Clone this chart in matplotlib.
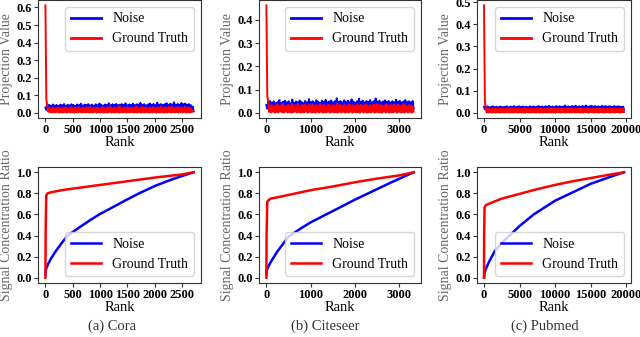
import numpy as np
import matplotlib
matplotlib.use("Agg")
import matplotlib.pyplot as plt

plt.rcParams['font.family'] = ['Liberation Serif', 'DejaVu Serif']

# dataset sizes and captions
names = ['(a) Cora', '(b) Citeseer', '(c) Pubmed']
sizes = [2708, 3327, 19717]

# tick positions
x_ticks = [[0, 500, 1000, 1500, 2000, 2500],
           [0, 1000, 2000, 3000],
           [0, 5000, 10000, 15000, 20000]]
top_y_ticks = [[0.0, 0.1, 0.2, 0.3, 0.4, 0.5, 0.6],
               [0.0, 0.1, 0.2, 0.3, 0.4],
               [0.0, 0.1, 0.2, 0.3, 0.4, 0.5]]
bottom_y_ticks = [0.0, 0.2, 0.4, 0.6, 0.8, 1.0]

# projection values, sampled evenly along the rank axis
cora_noise = [
    0.030, 0.017, 0.043, 0.020, 0.046, 0.015, 0.040, 0.019, 0.048, 0.016, 0.042, 0.021, 0.045, 0.014, 0.039, 0.018,
    0.047, 0.020, 0.044, 0.016, 0.050, 0.019, 0.041, 0.015, 0.046, 0.021, 0.043, 0.017, 0.049, 0.014, 0.045, 0.020,
    0.040, 0.018, 0.048, 0.016, 0.044, 0.021, 0.052, 0.015, 0.042, 0.019, 0.047, 0.017, 0.045, 0.020, 0.050, 0.016,
    0.043, 0.018, 0.046, 0.014, 0.041, 0.021, 0.049, 0.017, 0.044, 0.019, 0.053, 0.015, 0.046, 0.020, 0.042, 0.018,
    0.048, 0.016, 0.045, 0.021, 0.055, 0.017, 0.043, 0.019, 0.049, 0.015, 0.046, 0.020, 0.051, 0.018, 0.044, 0.016,
    0.047, 0.021, 0.050, 0.015, 0.045, 0.019, 0.054, 0.017, 0.043, 0.020, 0.048, 0.016, 0.046, 0.018, 0.052, 0.021,
    0.044, 0.015, 0.049, 0.019, 0.047, 0.017, 0.056, 0.020, 0.045, 0.016, 0.050, 0.018, 0.043, 0.021, 0.048, 0.015,
    0.053, 0.019, 0.046, 0.017, 0.051, 0.020, 0.044, 0.016, 0.058, 0.018, 0.047, 0.021, 0.050, 0.015, 0.045, 0.019,
    0.049, 0.017, 0.055, 0.020, 0.046, 0.016, 0.052, 0.018, 0.048, 0.021, 0.060, 0.015, 0.047, 0.019, 0.051, 0.017,
    0.045, 0.020, 0.056, 0.016, 0.049, 0.018, 0.053, 0.021, 0.047, 0.015, 0.050, 0.019, 0.044, 0.012, 0.036, 0.009]
cora_gt = [
    0.612, 0.075, 0.040, 0.006, 0.028, 0.003, 0.025, 0.001, 0.030, 0.004, 0.022, 0.002, 0.027, 0.005, 0.031, 0.001,
    0.024, 0.003, 0.029, 0.002, 0.026, 0.004, 0.032, 0.001, 0.023, 0.005, 0.028, 0.002, 0.034, 0.003, 0.025, 0.001,
    0.030, 0.004, 0.027, 0.002, 0.033, 0.005, 0.024, 0.001, 0.029, 0.003, 0.026, 0.002, 0.031, 0.004, 0.028, 0.001,
    0.035, 0.003, 0.025, 0.002, 0.030, 0.005, 0.027, 0.001, 0.032, 0.003, 0.024, 0.002, 0.029, 0.004, 0.033, 0.001,
    0.026, 0.003, 0.031, 0.002, 0.028, 0.005, 0.034, 0.001, 0.025, 0.003, 0.030, 0.002, 0.027, 0.004, 0.032, 0.001,
    0.038, 0.003, 0.026, 0.002, 0.031, 0.005, 0.028, 0.001, 0.033, 0.003, 0.025, 0.002, 0.030, 0.004, 0.027, 0.001,
    0.032, 0.003, 0.036, 0.002, 0.026, 0.005, 0.029, 0.001, 0.034, 0.003, 0.027, 0.002, 0.031, 0.004, 0.025, 0.001,
    0.030, 0.003, 0.028, 0.002, 0.035, 0.005, 0.026, 0.001, 0.032, 0.003, 0.029, 0.002, 0.037, 0.004, 0.027, 0.001,
    0.031, 0.003, 0.026, 0.002, 0.033, 0.005, 0.029, 0.001, 0.036, 0.003, 0.027, 0.002, 0.030, 0.004, 0.034, 0.001,
    0.028, 0.003, 0.032, 0.002, 0.026, 0.005, 0.035, 0.001, 0.029, 0.003, 0.031, 0.002, 0.024, 0.004, 0.012, 0.008]

citeseer_noise = [
    0.034, 0.018, 0.047, 0.015, 0.051, 0.020, 0.044, 0.017, 0.049, 0.014, 0.042, 0.019, 0.046, 0.016, 0.055, 0.021,
    0.043, 0.015, 0.048, 0.018, 0.052, 0.014, 0.045, 0.020, 0.050, 0.017, 0.041, 0.016, 0.057, 0.019, 0.044, 0.015,
    0.049, 0.021, 0.046, 0.017, 0.053, 0.014, 0.047, 0.020, 0.042, 0.016, 0.051, 0.018, 0.045, 0.015, 0.059, 0.019,
    0.046, 0.017, 0.050, 0.014, 0.044, 0.020, 0.054, 0.016, 0.048, 0.018, 0.043, 0.015, 0.052, 0.019, 0.047, 0.017,
    0.056, 0.014, 0.045, 0.020, 0.049, 0.016, 0.053, 0.018, 0.046, 0.015, 0.050, 0.019, 0.063, 0.017, 0.047, 0.014,
    0.051, 0.020, 0.045, 0.016, 0.054, 0.018, 0.048, 0.015, 0.052, 0.019, 0.046, 0.017, 0.058, 0.014, 0.049, 0.020,
    0.044, 0.016, 0.050, 0.018, 0.061, 0.015, 0.047, 0.019, 0.053, 0.017, 0.045, 0.014, 0.051, 0.020, 0.048, 0.016,
    0.055, 0.018, 0.046, 0.015, 0.050, 0.019, 0.062, 0.017, 0.048, 0.014, 0.052, 0.020, 0.045, 0.016, 0.049, 0.018,
    0.054, 0.015, 0.047, 0.019, 0.051, 0.017, 0.044, 0.014, 0.050, 0.020, 0.046, 0.016, 0.057, 0.018, 0.048, 0.015,
    0.052, 0.019, 0.045, 0.017, 0.049, 0.014, 0.055, 0.020, 0.047, 0.016, 0.050, 0.018, 0.046, 0.015, 0.051, 0.020]
citeseer_gt = [
    0.462, 0.074, 0.045, 0.004, 0.030, 0.002, 0.034, 0.005, 0.027, 0.001, 0.032, 0.004, 0.036, 0.002, 0.029, 0.006,
    0.033, 0.003, 0.038, 0.001, 0.028, 0.005, 0.031, 0.002, 0.035, 0.004, 0.030, 0.001, 0.037, 0.003, 0.027, 0.005,
    0.033, 0.002, 0.039, 0.004, 0.029, 0.001, 0.034, 0.003, 0.031, 0.002, 0.036, 0.005, 0.028, 0.001, 0.035, 0.004,
    0.032, 0.002, 0.037, 0.003, 0.030, 0.001, 0.034, 0.005, 0.029, 0.002, 0.038, 0.004, 0.031, 0.001, 0.035, 0.003,
    0.028, 0.002, 0.033, 0.005, 0.036, 0.001, 0.030, 0.004, 0.034, 0.002, 0.029, 0.003, 0.040, 0.001, 0.032, 0.005,
    0.035, 0.002, 0.030, 0.004, 0.037, 0.001, 0.028, 0.003, 0.033, 0.002, 0.036, 0.005, 0.031, 0.001, 0.034, 0.004,
    0.029, 0.002, 0.038, 0.003, 0.032, 0.001, 0.035, 0.005, 0.030, 0.002, 0.033, 0.004, 0.037, 0.001, 0.028, 0.003,
    0.034, 0.002, 0.031, 0.005, 0.036, 0.001, 0.029, 0.004, 0.039, 0.002, 0.032, 0.003, 0.035, 0.001, 0.030, 0.005,
    0.033, 0.002, 0.037, 0.004, 0.028, 0.001, 0.034, 0.003, 0.031, 0.002, 0.036, 0.005, 0.029, 0.001, 0.035, 0.004,
    0.032, 0.002, 0.030, 0.003, 0.037, 0.001, 0.033, 0.005, 0.028, 0.002, 0.034, 0.004, 0.031, 0.001, 0.029, 0.006]

pubmed_noise = [
    0.028, 0.016, 0.026, 0.014, 0.029, 0.017, 0.025, 0.015, 0.027, 0.016, 0.030, 0.014, 0.026, 0.017, 0.028, 0.015,
    0.025, 0.016, 0.029, 0.014, 0.027, 0.017, 0.026, 0.015, 0.028, 0.016, 0.030, 0.014, 0.025, 0.017, 0.029, 0.015,
    0.027, 0.016, 0.031, 0.014, 0.026, 0.017, 0.028, 0.015, 0.030, 0.016, 0.027, 0.014, 0.029, 0.017, 0.026, 0.015,
    0.028, 0.016, 0.025, 0.014, 0.030, 0.017, 0.027, 0.015, 0.029, 0.016, 0.026, 0.014, 0.028, 0.017, 0.031, 0.015,
    0.027, 0.016, 0.029, 0.014, 0.026, 0.017, 0.030, 0.015, 0.028, 0.016, 0.032, 0.014, 0.027, 0.017, 0.029, 0.015,
    0.026, 0.016, 0.031, 0.014, 0.028, 0.017, 0.030, 0.015, 0.027, 0.016, 0.029, 0.014, 0.033, 0.017, 0.028, 0.015,
    0.030, 0.016, 0.027, 0.014, 0.031, 0.017, 0.029, 0.015, 0.032, 0.016, 0.028, 0.014, 0.030, 0.017, 0.027, 0.015,
    0.031, 0.016, 0.029, 0.014, 0.033, 0.017, 0.028, 0.015, 0.030, 0.016, 0.032, 0.014, 0.029, 0.017, 0.031, 0.015,
    0.028, 0.016, 0.030, 0.014, 0.027, 0.017, 0.032, 0.015, 0.029, 0.016, 0.031, 0.014, 0.028, 0.017, 0.030, 0.015,
    0.029, 0.016, 0.027, 0.014, 0.031, 0.017, 0.028, 0.015, 0.030, 0.016, 0.029, 0.014, 0.027, 0.017, 0.028, 0.015]
pubmed_gt = [
    0.485, 0.052, 0.022, 0.002, 0.018, 0.001, 0.019, 0.003, 0.017, 0.001, 0.020, 0.002, 0.018, 0.001, 0.019, 0.003,
    0.017, 0.002, 0.020, 0.001, 0.018, 0.003, 0.019, 0.001, 0.017, 0.002, 0.020, 0.003, 0.018, 0.001, 0.019, 0.002,
    0.021, 0.001, 0.018, 0.003, 0.019, 0.002, 0.017, 0.001, 0.020, 0.003, 0.018, 0.001, 0.019, 0.002, 0.021, 0.001,
    0.018, 0.003, 0.019, 0.002, 0.017, 0.001, 0.020, 0.003, 0.018, 0.002, 0.019, 0.001, 0.021, 0.003, 0.018, 0.001,
    0.019, 0.002, 0.020, 0.001, 0.018, 0.003, 0.017, 0.002, 0.019, 0.001, 0.020, 0.003, 0.018, 0.001, 0.021, 0.002,
    0.019, 0.001, 0.018, 0.003, 0.020, 0.002, 0.017, 0.001, 0.019, 0.003, 0.018, 0.002, 0.020, 0.001, 0.019, 0.003,
    0.018, 0.001, 0.021, 0.002, 0.019, 0.003, 0.017, 0.001, 0.020, 0.002, 0.018, 0.003, 0.019, 0.001, 0.021, 0.002,
    0.018, 0.001, 0.019, 0.003, 0.020, 0.002, 0.018, 0.001, 0.017, 0.003, 0.019, 0.002, 0.020, 0.001, 0.018, 0.003,
    0.019, 0.002, 0.021, 0.001, 0.018, 0.003, 0.020, 0.002, 0.019, 0.001, 0.017, 0.003, 0.018, 0.002, 0.020, 0.001,
    0.019, 0.003, 0.018, 0.002, 0.021, 0.001, 0.019, 0.003, 0.018, 0.002, 0.020, 0.001, 0.017, 0.003, 0.019, 0.004]

# signal concentration ratio (cumulative), read at given ranks
cora_noise_rank = [0, 10, 50, 100, 200, 300, 407, 600, 800, 983, 1200, 1450, 1711, 2000, 2300, 2500, 2708]
cora_noise_ratio = [0.03, 0.08, 0.13, 0.18, 0.26, 0.33, 0.40, 0.47, 0.54, 0.60, 0.66, 0.73, 0.80, 0.87, 0.93, 0.965, 1.0]
cora_gt_rank = [0, 5, 15, 40, 100, 300, 500, 1000, 1500, 2000, 2500, 2708]
cora_gt_ratio = [0.0, 0.45, 0.78, 0.80, 0.81, 0.83, 0.845, 0.88, 0.915, 0.95, 0.98, 1.0]

citeseer_noise_rank = [0, 10, 50, 100, 250, 500, 750, 1000, 1350, 1700, 2000, 2300, 2800, 3327]
citeseer_noise_ratio = [0.03, 0.07, 0.11, 0.15, 0.25, 0.39, 0.46, 0.525, 0.60, 0.675, 0.74, 0.80, 0.90, 1.0]
citeseer_gt_rank = [0, 5, 20, 60, 100, 500, 1000, 1500, 2000, 2500, 3000, 3327]
citeseer_gt_ratio = [0.0, 0.40, 0.72, 0.74, 0.75, 0.785, 0.83, 0.865, 0.905, 0.94, 0.97, 1.0]

pubmed_noise_rank = [0, 100, 300, 700, 1500, 2500, 3600, 5000, 7000, 10000, 12200, 15000, 17500, 19717]
pubmed_noise_ratio = [0.0, 0.05, 0.09, 0.15, 0.25, 0.33, 0.40, 0.49, 0.60, 0.73, 0.80, 0.89, 0.95, 1.0]
pubmed_gt_rank = [0, 20, 80, 300, 1000, 2500, 5000, 7500, 10000, 12500, 15000, 17500, 19717]
pubmed_gt_ratio = [0.0, 0.40, 0.67, 0.69, 0.71, 0.75, 0.795, 0.84, 0.88, 0.915, 0.945, 0.975, 1.0]

proj = [(cora_noise, cora_gt), (citeseer_noise, citeseer_gt), (pubmed_noise, pubmed_gt)]
ratio = [(cora_noise_rank, cora_noise_ratio, cora_gt_rank, cora_gt_ratio),
         (citeseer_noise_rank, citeseer_noise_ratio, citeseer_gt_rank, citeseer_gt_ratio),
         (pubmed_noise_rank, pubmed_noise_ratio, pubmed_gt_rank, pubmed_gt_ratio)]

W, H = 640, 337
fig = plt.figure(figsize=(6.4, 3.37), dpi=100)

lefts = [38, 259, 477]
rights = [201, 421, 631]
caption_x = [112, 325, 545]


def style(ax, xt, yt):
    for s in ax.spines.values():
        s.set_color('#333333')
        s.set_linewidth(0.8)
    ax.set_xticks(xt, [str(t) for t in xt], fontweight='bold')
    ax.set_yticks(yt, ['%.1f' % t for t in yt], fontweight='bold')
    ax.tick_params(length=3, width=0.8, color='#333333', labelsize=9, pad=1.5)
    ax.set_xlabel('Rank', fontsize=10.5, color='black', labelpad=0)


for i in range(3):
    l, r = lefts[i], rights[i]
    n = sizes[i]

    # top: projection values
    ax = fig.add_axes([l / W, 1 - 118 / H, (r - l) / W, 118 / H])
    noise, gt = proj[i]
    ax.plot(np.linspace(0, n, len(noise)), noise, color='blue', lw=1.4, label='Noise')
    ax.plot(np.linspace(0, n, len(gt)), gt, color='red', lw=1.4, label='Ground Truth')
    ax.set_ylabel('Projection Value', fontsize=10, color='#666666', labelpad=2)
    leg = ax.legend(loc='upper right', fontsize=10, handlelength=2.2)
    for line in leg.get_lines():
        line.set_linewidth(2)
    style(ax, x_ticks[i], top_y_ticks[i])

    # bottom: signal concentration ratio
    ax = fig.add_axes([l / W, 1 - 283 / H, (r - l) / W, (283 - 167) / H])
    nr, nv, gr, gv = ratio[i]
    ax.plot(nr, nv, color='blue', lw=1.8, label='Noise')
    ax.plot(gr, gv, color='red', lw=1.8, label='Ground Truth')
    ax.set_ylabel('Signal Concentration Ratio', fontsize=10, color='#666666', labelpad=2)
    ax.legend(loc='lower right', fontsize=10, handlelength=2.2)
    style(ax, x_ticks[i], bottom_y_ticks)

    fig.text(caption_x[i] / W, 1 - 326 / H, names[i], ha='center', va='center',
             fontsize=10.5, color='#333333')

fig.savefig('out.png', dpi=100)
